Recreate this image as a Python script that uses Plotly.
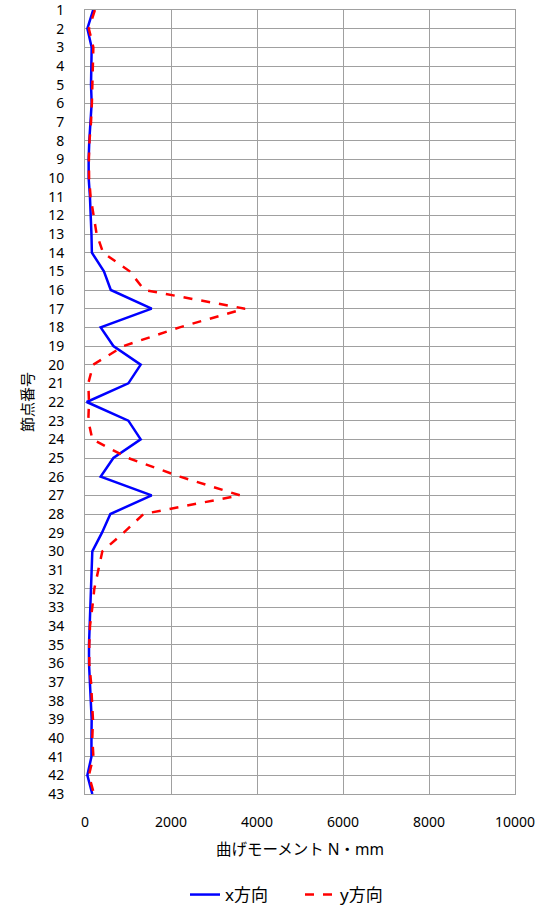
import plotly.graph_objects as go

nodes = list(range(1, 44))

moment_x = [190, 55, 155, 140, 140, 155, 120, 100, 85, 85,
            115, 140, 150, 160, 440, 600, 1550, 365, 660, 1295,
            1008, 40, 1008, 1295, 660, 365, 1550, 590, 395, 170,
            155, 140, 116, 100, 93, 93, 116, 140, 155, 150,
            150, 55, 170]

moment_y = [230, 90, 194, 185, 170, 160, 140, 105, 90, 95,
            130, 195, 270, 420, 1040, 1380, 3720, 2200, 900, 190,
            77, 93, 77, 171, 1000, 2210, 3605, 1360, 900, 403,
            310, 217, 170, 116, 100, 100, 140, 170, 185, 170,
            195, 90, 210]

FONT = "Noto Sans, Noto Sans CJK JP, sans-serif"
GRID = "#a0a0a0"

# figure is a bit taller than the window so the legend never pushes the margins
FIG_H = 930
PLOT_TOP = 10
PLOT_BOTTOM = 794

fig = go.Figure()
fig.add_trace(go.Scatter(
    x=moment_x, y=nodes, mode="lines", name="x方向",
    line=dict(color="#0000ff", width=2.5),
))
fig.add_trace(go.Scatter(
    x=moment_y, y=nodes, mode="lines", name="y方向",
    line=dict(color="#ff0000", width=2.5, dash="dash"),
))

plot_h = PLOT_BOTTOM - PLOT_TOP
fig.update_layout(
    width=551, height=FIG_H,
    margin=dict(l=85, r=36, t=PLOT_TOP, b=FIG_H - PLOT_BOTTOM, autoexpand=False),
    paper_bgcolor="white", plot_bgcolor="white",
    font=dict(family=FONT, size=14, color="black"),
    showlegend=True,
    legend=dict(orientation="h", x=0.5, xanchor="center",
                y=-(877 - PLOT_BOTTOM) / plot_h, yanchor="top",
                font=dict(size=17), entrywidth=70),
    xaxis=dict(
        range=[0, 10000], dtick=2000, tick0=0, tickformat="d",
        showgrid=True, gridcolor=GRID, gridwidth=1,
        showline=True, linecolor=GRID, mirror=True,
        zeroline=False, ticks="", ticklabelstandoff=15, automargin=False,
        title=dict(text="曲げモーメント N・mm", standoff=14, font=dict(size=15.5)),
    ),
    yaxis=dict(
        range=[43, 1], tickmode="array", tickvals=nodes,
        showgrid=True, gridcolor=GRID, gridwidth=1,
        showline=True, linecolor=GRID, mirror=True,
        zeroline=False, ticks="", ticklabelstandoff=17,
        ticklabeloverflow="allow", automargin=False,
        title=dict(text="節点番号", standoff=10, font=dict(size=15)),
    ),
)

# the page body has an 8px default margin; drop it so the figure sits at the window corner
fig.write_html("out.html", config={"displayModeBar": False},
               post_script="document.body.style.margin='0';")
